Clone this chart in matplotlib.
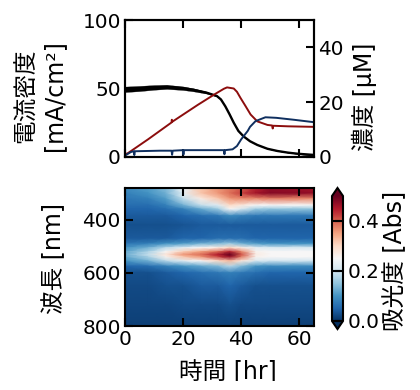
import numpy as np
import matplotlib
matplotlib.use("Agg")
import matplotlib.pyplot as plt
from matplotlib.patches import Rectangle

plt.rcParams['font.family'] = ['DejaVu Sans', 'Noto Sans CJK JP']

# current density
t_j = [0, 5, 10, 14.4, 20, 23.6, 28, 31.6, 33, 34.5, 36, 37.4, 39, 40.8, 43, 45.5, 49, 52.4, 56, 59.3, 65]
j_mid = [49.4, 50, 50.8, 51.2, 50.2, 49, 47, 44.5, 42, 37, 31, 25, 19, 15, 11.5, 8.8, 6, 4.4, 3.2, 2.4, 1.5]
j_spread = [2.0, 1.9, 1.7, 1.5, 1.3, 1.1, 0.7, 0.3, 0.2, 0, 0, 0, 0, 0, 0, 0, 0, 0, 0, 0.2, 0.8]
# red / blue concentrations
t_r = [0, 1, 8, 16, 16.1, 16.3, 25, 31, 34, 35.1, 37.4, 38.5, 39.7, 41.5, 43.2, 45.5, 49, 50.6, 50.8, 51, 56, 65]
c_r = [1, 1.4, 6.5, 12.6, 13.6, 12.9, 19, 23, 24.9, 25.4, 25, 23.8, 21.6, 18.5, 15.5, 13, 11.7, 11.5, 10.4, 11.4, 11.2, 11]
t_b = [0, 2, 3, 3.2, 3.4, 12, 16, 16.2, 16.4, 20, 20.1, 20.2, 27, 33, 34, 34.2, 34.4, 37, 38.5, 40, 42.2, 43, 44.9, 48.3, 52, 58, 65]
c_b = [0.5, 1.8, 2.1, 0.7, 2.1, 2.3, 2.3, 0.8, 2.3, 2.5, 0.9, 2.5, 2.5, 2.5, 2.5, 1.0, 2.5, 2.8, 4, 6.5, 9.5, 11, 13.1, 14.5, 14.3, 13.6, 12.7]

# absorbance map
times = [0, 8, 14, 20, 26, 32, 36, 40, 45, 50, 65]
wavelengths = [280, 300, 320, 345, 360, 385, 420, 470, 490, 505, 520, 530, 540, 555, 575, 600, 650, 720, 800]
absorbance = [
    [.09, .11, .14, .23, .32, .36, .38, .40, .44, .47, .46],
    [.08, .10, .13, .23, .32, .36, .39, .42, .46, .48, .47],
    [.07, .08, .11, .19, .27, .32, .36, .37, .37, .38, .37],
    [.06, .06, .08, .13, .19, .22, .30, .28, .25, .25, .25],
    [.05, .05, .06, .08, .12, .16, .25, .21, .16, .15, .15],
    [.04, .04, .04, .05, .06, .07, .09, .08, .07, .07, .07],
    [.03, .03, .03, .035, .04, .04, .04, .04, .04, .04, .04],
    [.04, .04, .04, .05, .05, .06, .06, .06, .05, .05, .05],
    [.07, .08, .10, .11, .13, .14, .16, .13, .11, .10, .10],
    [.10, .13, .18, .22, .25, .27, .30, .27, .22, .21, .21],
    [.12, .17, .25, .31, .35, .39, .44, .37, .26, .25, .25],
    [.13, .19, .28, .36, .39, .45, .50, .41, .27, .25, .25],
    [.12, .17, .26, .32, .36, .42, .47, .38, .26, .25, .25],
    [.10, .13, .18, .22, .25, .30, .33, .28, .21, .20, .20],
    [.05, .06, .08, .10, .12, .14, .18, .14, .10, .09, .09],
    [.03, .03, .04, .05, .06, .07, .08, .07, .06, .05, .05],
    [.025, .025, .03, .03, .04, .04, .05, .04, .03, .03, .03],
    [.02, .02, .02, .025, .025, .025, .03, .025, .025, .025, .025],
    [.015, .015, .015, .015, .015, .015, .015, .015, .015, .015, .015],
]
x_ticks = [0, 20, 40, 60]
left_ticks = [0, 50, 100]
right_ticks = [0, 20, 40]
wl_ticks = [400, 600, 800]
cb_ticks = [0.0, 0.2, 0.4]

W, H = 420, 390
fig = plt.figure(figsize=(W / 100, H / 100), dpi=100)

def rect(l, t, r, b):
    return [l / W, 1 - b / H, (r - l) / W, (b - t) / H]

FS = 14.4
LW = 1.5
tick = dict(direction='in', length=6, width=1.5, labelsize=FS, pad=3)

ax = fig.add_axes(rect(125, 20, 314, 157))
ax.fill_between(t_j, np.array(j_mid) - np.array(j_spread), np.array(j_mid) + np.array(j_spread),
                color='black', lw=0.2)
ax.plot(t_j, j_mid, color='black', lw=1.7)
ax.set_xlim(0, 65)
ax.set_ylim(0, 100)
ax.set_yticks(left_ticks)
ax.set_xticks(x_ticks)
ax.tick_params(axis='x', top=True, labelbottom=False, **tick)
ax.tick_params(axis='y', **tick)

ax2 = ax.twinx()
ax2.plot(t_r, c_r, color='#8c0d0d', lw=1.4)
ax2.plot(t_b, c_b, color='#0f2f5f', lw=1.4)
ax2.set_ylim(0, 50)
ax2.set_yticks(right_ticks)
ax2.tick_params(axis='y', **tick)

bx = fig.add_axes(rect(125, 188, 314, 326))
mesh = bx.pcolormesh(times, wavelengths, np.array(absorbance), cmap='RdBu_r', vmin=0, vmax=0.5,
                     shading='gouraud', rasterized=True)
bx.set_xlim(0, 65)
bx.set_ylim(800, 280)
bx.set_xticks(x_ticks)
bx.set_yticks(wl_ticks)
bx.tick_params(axis='both', top=True, right=True, **tick)

for a in (ax, ax2, bx):
    for s in a.spines.values():
        s.set_linewidth(LW)

cax = fig.add_axes(rect(332, 188, 343, 329))
cb = fig.colorbar(mesh, cax=cax, extend='both', extendfrac=0.064)
cb.set_ticks(cb_ticks)
cb.minorticks_off()
cb.solids.set_zorder(0)
cb.ax.tick_params(axis='y', direction='in', left=True, right=True, length=6, width=1.5,
                  color='black', labelsize=FS, pad=3)
cb.outline.set_linewidth(1.5)

JP = 17
fig.text(26 / W, 1 - 96 / H, '電流密度', rotation=90, ha='center', va='center', fontsize=JP)
fig.text(54 / W, 1 - 96 / H, '[mA/cm²]', rotation=90, ha='center', va='center', fontsize=JP)
fig.text(54 / W, 1 - 259 / H, '波長 [nm]', rotation=90, ha='center', va='center', fontsize=JP)
xl = fig.text(228 / W, 1 - 372 / H, '時間 [hr]', ha='center', va='center', fontsize=JP)
xl.set_clip_path(Rectangle((0, H - 381), W, 381, transform=None))
xl.set_clip_on(True)
fig.text(364 / W, 1 - 97 / H, '濃度 [μM]', rotation=90, ha='center', va='center', fontsize=JP)
fig.text(395 / W, 1 - 261 / H, '吸光度 [Abs]', rotation=90, ha='center', va='center', fontsize=JP)

fig.savefig('out.png', dpi=100)
